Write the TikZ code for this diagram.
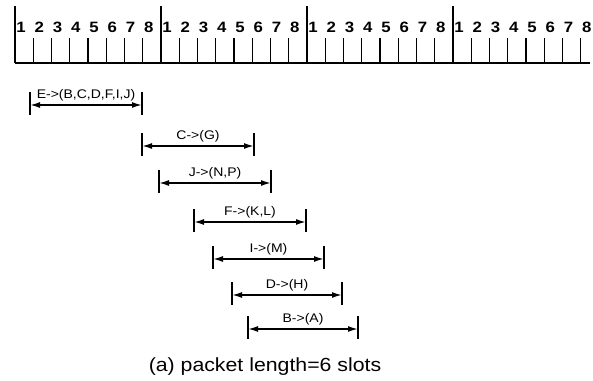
\documentclass[tikz,border=0pt]{standalone}
\usepackage{fontspec}
\setmainfont{Liberation Sans}
\newfontfamily\widesans[FakeStretch=1.12]{Liberation Sans}
\usetikzlibrary{arrows.meta}

\begin{document}
\begin{tikzpicture}[x=1pt,y=-1pt,
  axis/.style={line width=1.2pt},
  grouptick/.style={line width=1.2pt},
  slottick/.style={line width=1.1pt},
  digit/.style={font=\widesans\bfseries\fontsize{15}{16}\selectfont, inner sep=0pt, anchor=base},
  span/.style={line width=1.6pt, {Latex[length=10pt,width=6pt]}-{Latex[length=10pt,width=6pt]}},
  endbar/.style={line width=1.2pt},
  spanlabel/.style={font=\widesans\fontsize{12.5}{13}\selectfont, inner sep=0pt, anchor=base},
  caption/.style={font=\widesans\fontsize{19}{20}\selectfont, inner sep=0pt, anchor=base}
]
\useasboundingbox (0,0) rectangle (593,380);

% slot ruler: four frames of eight slots
\draw[axis] (15,63) -- (590,63);
\foreach \g in {0,...,3}{
  \pgfmathsetmacro\gx{15+146*\g}
  \draw[grouptick] (\gx,6) -- (\gx,63);
  \foreach \k in {1,...,7}{
    \draw[slottick] (\gx+18.25*\k,38) -- (\gx+18.25*\k,63);
  }
  \foreach \k in {1,...,8}{
    \node[digit] (d\g\k) at (\gx+18.25*\k-12.25,32) {\k};
  }
}

% transmission intervals
\foreach \i/\l/\r/\y/\t in {
  1/30/142/105/{E->(B,C,D,F,I,J)},
  2/142/254/146/{C->(G)},
  3/159/271/183/{J->(N,P)},
  4/194/306/222/{F->(K,L)},
  5/213/324/259/{I->(M)},
  6/232/342/295/{D->(H)},
  7/248/358/329/{B->(A)}}{
  \coordinate (L\i) at (\l,\y);
  \coordinate (R\i) at (\r,\y);
  \draw[endbar] ([yshift=13pt]L\i) -- ([yshift=-10pt]L\i);
  \draw[endbar] ([yshift=13pt]R\i) -- ([yshift=-10pt]R\i);
  \draw[span] (L\i) -- (R\i);
  \node[spanlabel] (t\i) at ({(\l+\r)/2},\y-7) {\t};
}

\node[caption] (cap) at (265,371) {(a) packet length=6 slots};
\end{tikzpicture}
\end{document}
